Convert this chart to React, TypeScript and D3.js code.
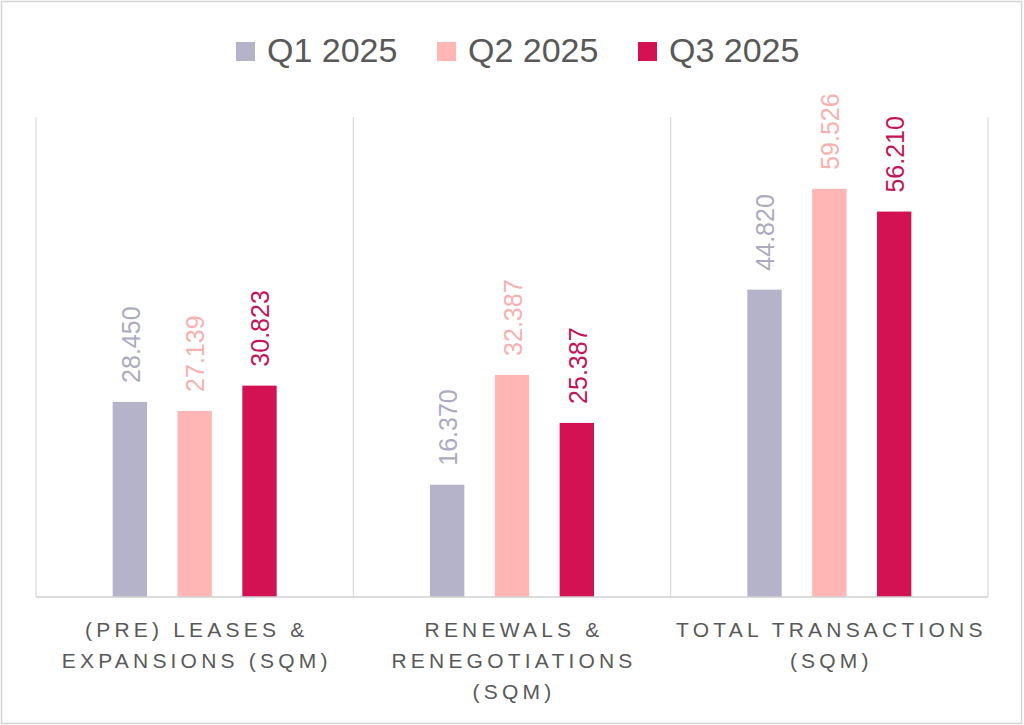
import { useEffect, useRef } from 'react';
import * as d3 from 'd3';

const categories = ['(PRE) LEASES & EXPANSIONS (SQM)', 'RENEWALS & RENEGOTIATIONS (SQM)', 'TOTAL TRANSACTIONS (SQM)'];
const categoryLines = [
	['(PRE) LEASES &', 'EXPANSIONS (SQM)'],
	['RENEWALS &', 'RENEGOTIATIONS', '(SQM)'],
	['TOTAL TRANSACTIONS', '(SQM)'],
];
const seriesNames = ['Q1 2025', 'Q2 2025', 'Q3 2025'];
const q1Values = [28450, 16370, 44820];
const q2Values = [27139, 32387, 59526];
const q3Values = [30823, 25387, 56210];
const valueLabels = [
	['28.450', '16.370', '44.820'],
	['27.139', '32.387', '59.526'],
	['30.823', '25.387', '56.210'],
];
const barColors = ['#b4b3c9', '#ffb6b5', '#d31254'];
const labelColors = ['#acabc0', '#f9b1b0', '#c3145a'];

const W = 1024;
const H = 725;

export default function App() {
	const svgRef = useRef<SVGSVGElement>(null);

	useEffect(() => {
		const svg = d3.select(svgRef.current);
		svg.selectAll('*').remove();

		const margin = { top: 117, right: 36, bottom: 128, left: 36 };
		const width = W - margin.left - margin.right;
		const height = H - margin.top - margin.bottom;

		// outer frame
		svg.append('rect')
			.attr('x', 1.5).attr('y', 1.5)
			.attr('width', W - 4).attr('height', H - 3)
			.attr('fill', '#fff')
			.attr('stroke', '#d4d4d4')
			.attr('stroke-width', 1.5);

		const g = svg.append('g').attr('transform', `translate(${margin.left}, ${margin.top})`);

		const x0 = d3.scaleBand().domain(categories).range([0, width]).padding(0);
		const x1 = d3.scaleBand().domain(seriesNames).range([0, 164]).paddingInner(0.47).paddingOuter(0);
		const y = d3.scaleLinear().domain([0, 70000]).range([height, 0]);

		const series = [q1Values, q2Values, q3Values];

		// category separators
		const seps = [0, ...categories.map(c => (x0(c) as number) + x0.bandwidth())];
		g.selectAll('line.sep')
			.data(seps)
			.join('line')
			.attr('class', 'sep')
			.attr('x1', d => d).attr('x2', d => d)
			.attr('y1', 0).attr('y2', height)
			.attr('stroke', '#d9d9d9')
			.attr('stroke-width', 1.2);

		const groups = g.selectAll('g.cat')
			.data(categories)
			.join('g')
			.attr('class', 'cat')
			.attr('transform', d => `translate(${(x0(d) as number) + (x0.bandwidth() - 164) / 2}, 0)`);

		seriesNames.forEach((s, si) => {
			groups.append('rect')
				.attr('x', x1(s) as number)
				.attr('y', (_, ci) => y(series[si][ci]))
				.attr('width', x1.bandwidth())
				.attr('height', (_, ci) => height - y(series[si][ci]))
				.attr('fill', barColors[si]);

			groups.append('text')
				.attr('transform', (_, ci) => `translate(${(x1(s) as number) + x1.bandwidth() / 2 + 1}, ${y(series[si][ci]) - 19}) rotate(-90)`)
				.attr('dy', '0.35em')
				.attr('text-anchor', 'start')
				.attr('font-family', 'Liberation Sans, Arial, sans-serif')
				.attr('font-size', 25)
				.attr('fill', labelColors[si])
				.text((_, ci) => valueLabels[si][ci]);
		});

		// baseline
		g.append('line')
			.attr('x1', 0).attr('x2', width)
			.attr('y1', height).attr('y2', height)
			.attr('stroke', '#d0d0d0')
			.attr('stroke-width', 1.5);

		// category labels
		groups.each(function (_, ci) {
			const t = d3.select(this).append('text')
				.attr('text-anchor', 'middle')
				.attr('font-family', 'Liberation Sans, Arial, sans-serif')
				.attr('font-size', 21)
				.attr('letter-spacing', 4.2)
				.attr('fill', '#595959');
			categoryLines[ci].forEach((line, li) => {
				t.append('tspan')
					.attr('x', 82 + 2)
					.attr('y', height + 40 + li * 31)
					.text(line);
			});
		});

		// legend
		const legendX = [236, 437, 638];
		const legend = svg.append('g');
		seriesNames.forEach((s, i) => {
			legend.append('rect')
				.attr('x', legendX[i]).attr('y', 42)
				.attr('width', 19).attr('height', 19)
				.attr('fill', barColors[i]);
			legend.append('text')
				.attr('x', legendX[i] + 31).attr('y', 62)
				.attr('font-family', 'Liberation Sans, Arial, sans-serif')
				.attr('font-size', 34)
				.attr('fill', '#595959')
				.text(s);
		});
	}, []);

	return (
		<>
			<style>{'body{margin:0}'}</style>
			<svg ref={svgRef} width={W} height={H} style={{ display: 'block' }} />
		</>
	);
}
